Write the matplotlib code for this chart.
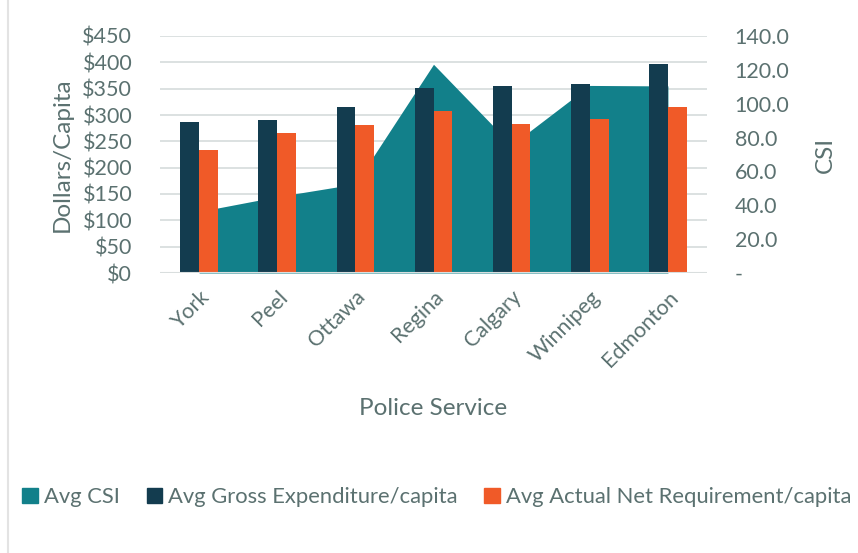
import numpy as np
import matplotlib
matplotlib.use("Agg")
import matplotlib.pyplot as plt
from matplotlib.patches import Patch
from matplotlib.ticker import FuncFormatter

# données
services = ["York", "Peel", "Ottawa", "Regina", "Calgary", "Winnipeg", "Edmonton"]
avg_csi = [36.3, 45.1, 52.6, 123.3, 75.6, 110.8, 110.5]
gross_exp = [287, 290, 315, 352, 355, 358, 396]
net_req = [233, 265, 281, 308, 282, 293, 315]

teal = "#12808A"
navy = "#133C4F"
orange = "#F05A28"
txt = "#5B7170"
grid_c = "#D9DEDE"

plt.rcParams["font.family"] = ["Lato", "DejaVu Sans"]

fig = plt.figure(figsize=(8.58, 5.53), dpi=100)
pos = [160 / 858, 1 - 273 / 553, (707 - 160) / 858, (273 - 36) / 553]
x = np.arange(len(services))

# axe des dollars (grille + étiquettes à gauche)
ax = fig.add_axes(pos)
ax.set_ylim(0, 450)
ax.set_xlim(-0.5, len(services) - 0.5)
ax.set_yticks(np.arange(0, 451, 50))
ax.yaxis.set_major_formatter(FuncFormatter(lambda v, p: f"${v:.0f}"))
ax.grid(axis="y", color=grid_c, lw=1.3)
ax.set_axisbelow(True)
for s in ax.spines.values():
    s.set_visible(False)
ax.tick_params(axis="y", length=0, labelsize=15.5, labelcolor=txt, pad=20)
ax.tick_params(axis="x", length=0, labelsize=15.5, labelcolor=txt, pad=10)
ax.set_xticks(x)
ax.set_xticklabels(services, rotation=45, ha="right", va="top", rotation_mode="anchor")
ax.set_ylabel("Dollars/Capita", fontsize=17.5, color=txt, labelpad=7)
ax.set_xlabel("Police Service", fontsize=17.5, color=txt, labelpad=20)

# CSI en aires sur l'axe secondaire
ax2 = ax.twinx()
ax2.fill_between(x, 0, avg_csi, color=teal, lw=0)
ax2.set_ylim(0, 140)
ax2.set_yticks(np.arange(0, 141, 20))
ax2.yaxis.set_major_formatter(FuncFormatter(lambda v, p: "-" if v == 0 else f"{v:.1f}"))
ax2.tick_params(axis="y", length=0, labelsize=15.5, labelcolor=txt, pad=20)
ax2.set_ylabel("CSI", fontsize=17.5, color=txt, labelpad=18)
for s in ax2.spines.values():
    s.set_visible(False)

# barres par-dessus
ax3 = ax.twinx()
ax3.set_ylim(0, 450)
w = 0.24
ax3.bar(x - w / 2, gross_exp, width=w, color=navy)
ax3.bar(x + w / 2, net_req, width=w, color=orange)
ax3.set_yticks([])
for s in ax3.spines.values():
    s.set_visible(False)
ax3.axhline(0, color=grid_c, lw=1.5)

handles = [Patch(color=teal, label="Avg CSI"),
           Patch(color=navy, label="Avg Gross Expenditure/capita"),
           Patch(color=orange, label="Avg Actual Net Requirement/capita")]
fig.legend(handles=handles, loc="center", bbox_to_anchor=(437 / 858, 1 - 497 / 553),
           ncol=3, frameon=False, fontsize=15.8, labelcolor=txt,
           handlelength=0.7, handleheight=0.7, handletextpad=0.3, columnspacing=1.2)

fig.add_artist(plt.Line2D([8 / 858, 8 / 858], [0, 1], color="#E3E3E3", lw=1.5))

fig.savefig("out.png", dpi=100, facecolor="white")
